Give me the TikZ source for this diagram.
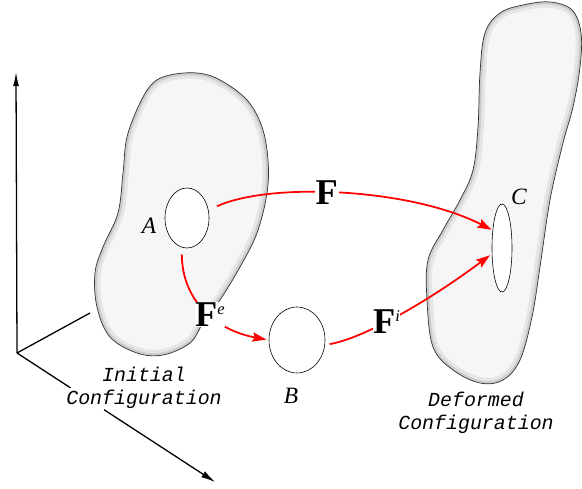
\documentclass[tikz,border=0pt]{standalone}
\usepackage{fontspec}
\newfontfamily\configfont{Liberation Mono}
\newfontfamily\labelserif{Liberation Serif}
\usetikzlibrary{arrows.meta,shapes.geometric,calc}

\newcommand\mapname[1]{\bfseries F\raisebox{10pt}{\fontsize{14}{15}\selectfont\mdseries\itshape #1}}

\tikzset{
  hole/.style={draw, ellipse, fill=white, line width=0.5pt, inner sep=0pt},
  map/.style={red, line width=1.5pt, -{Stealth[length=12pt,width=8pt,inset=2pt]}},
  maplabel/.style={fill=white, text=black, inner sep=0.5pt, font=\labelserif\fontsize{31}{33}\selectfont},
  axis/.style={line width=1.1pt},
  config/.style={font=\configfont\itshape\fontsize{17}{20}\selectfont, align=center},
  pointlabel/.style={font=\labelserif\itshape\fontsize{20}{21}\selectfont}
}

% outlines of the two bodies
\def\initialbody{plot[smooth cycle, tension=0.6] coordinates {
  (170,75) (197,73) (220,80) (247,100) (262,127) (268,160) (267,193)
  (257,233) (240,267) (220,300) (203,323) (190,343) (163,355) (137,353)
  (110,337) (97,307) (95,273) (103,247) (118,213) (123,173) (127,137)
  (140,103) (153,83)}}
\def\deformedbody{plot[smooth cycle, tension=0.6] coordinates {
  (523,5) (550,2) (572,10) (581,33) (580,67) (573,107) (563,143)
  (550,200) (540,267) (532,317) (520,360) (503,380) (480,383) (453,370)
  (433,347) (427,300) (428,260) (443,230) (460,200) (473,170) (478,127)
  (480,73) (485,33) (500,13)}}

\begin{document}
\begin{tikzpicture}[x=0.03cm, y=-0.03cm]
  \useasboundingbox (0,0) rectangle (582,489);

  % axes
  \coordinate (origin) at (17,353);
  \coordinate (ztip) at (16,72);
  \coordinate (xtip) at (215,482);
  \coordinate (yend) at (90,313);
  \draw[axis, -{Latex[length=12pt,width=5pt]}] (origin) -- (ztip);
  \draw[axis] (origin) -- (yend);
  \draw[axis] (origin) -- ($(origin)!0.27!(xtip)$);
  \draw[axis, -{Latex[length=12pt,width=6pt]}] ($(origin)!0.44!(xtip)$) -- (xtip);

  % bodies with a soft inner rim
  \foreach \body in {\initialbody, \deformedbody} {
    \fill[gray!7] \body;
    \begin{scope}
      \clip \body;
      \draw[gray!20, line width=10pt] \body;
      \draw[gray!40, line width=4.5pt] \body;
    \end{scope}
    \draw[line width=0.6pt, black!80] \body;
  }

  % holes
  \node[hole, minimum width=1.32cm, minimum height=1.8cm] (holeA) at (187,218) {};
  \node[hole, minimum width=1.68cm, minimum height=1.98cm] (holeB) at (297,340) {};
  \node[hole, minimum width=0.6cm, minimum height=2.64cm] (holeC) at (502,248) {};

  \node[pointlabel] (labelA) at (149,226) {A};
  \node[pointlabel] (labelB) at (291,396) {B};
  \node[pointlabel] (labelC) at (519,197) {C};

  % mappings
  \draw[map, shorten <=8pt, shorten >=1pt] (holeA.20)
    .. controls (270,182) and (410,188) .. (holeC.118)
    node[maplabel, pos=0.45] (labelF) {\bfseries F};
  \draw[map, shorten <=6pt, shorten >=2pt] (holeA.-100)
    .. controls (182,300) and (215,330) .. (holeB.west)
    node[maplabel, pos=0.55] (labelFe) {\mapname{e}};
  \draw[map, shorten <=4pt, shorten >=2pt] (holeB.-10)
    .. controls (365,338) and (430,300) .. (holeC.-150)
    node[maplabel, pos=0.42] (labelFi) {\mapname{i}};

  % captions
  \node[config] (initial) at (144,388) {Initial\\Configuration};
  \node[config] (deformed) at (476,413) {Deformed\\Configuration};
\end{tikzpicture}
\end{document}
